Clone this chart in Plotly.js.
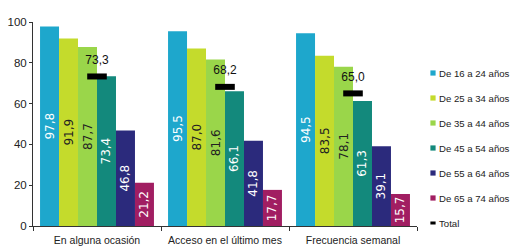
<!DOCTYPE html>
<html><head><meta charset="utf-8">
<script src="https://cdn.plot.ly/plotly-3.0.1.min.js"></script>
<style>html,body{margin:0;padding:0;background:#fff}#c{width:510px;height:248px}</style>
</head><body><div id="c"></div>
<script>
var categories = ["En alguna ocasión", "Acceso en el último mes", "Frecuencia semanal"];
var seriesNames = ["De 16 a 24 años", "De 25 a 34 años", "De 35 a 44 años", "De 45 a 54 años", "De 55 a 64 años", "De 65 a 74 años"];
var age16_24 = [97.8, 95.5, 94.5];
var age25_34 = [91.9, 87.0, 83.5];
var age35_44 = [87.7, 81.6, 78.1];
var age45_54 = [73.4, 66.1, 61.3];
var age55_64 = [46.8, 41.8, 39.1];
var age65_74 = [21.2, 17.7, 15.7];
var total = [73.3, 68.2, 65.0];
var yTicks = [0, 20, 40, 60, 80, 100];

var seriesValues = [age16_24, age25_34, age35_44, age45_54, age55_64, age65_74];
var colors = ["#1ea7cc", "#c4db2c", "#9ad64a", "#13897c", "#2b2a7c", "#a11e62"];
var textColors = ["#ffffff", "#222222", "#222222", "#ffffff", "#ffffff", "#ffffff"];

var traces = [];
seriesValues.forEach(function (vals, i) {
  traces.push({
    type: "bar", x: categories, y: vals, name: seriesNames[i],
    marker: {color: colors[i]}, showlegend: false,
    texttemplate: "%{y:.1f}", textposition: "inside", insidetextanchor: "middle",
    textangle: -90, constraintext: "none",
    textfont: {family: "DejaVu Sans", size: 12, color: textColors[i]},
    hoverinfo: "skip"
  });
});
traces.push({
  type: "scatter", mode: "markers+text", x: categories, y: total, name: "Total",
  showlegend: false, cliponaxis: false,
  marker: {symbol: "line-ew", size: 14, line: {width: 6, color: "#000"}},
  texttemplate: "%{y:.1f}", textposition: "top center",
  textfont: {family: "Liberation Sans", size: 12, color: "#111"}
});

// custom legend (drawn as layout shapes + annotations)
var legendNames = seriesNames.concat(["Total"]);
var legendColors = colors.concat(["#000000"]);
var shapes = [], annotations = [];
var lx = (433 - 33) / 384, ltx = (437 - 33) / 384;
legendNames.forEach(function (n, i) {
  var cy = 73 + i * 25;
  var yp = (226 - cy) / 204;
  var h = 2.6 / 204, w = 2.6 / 384;
  if (i < 6) {
    shapes.push({type: "rect", xref: "paper", yref: "paper",
      x0: lx - w, x1: lx + w, y0: yp - h, y1: yp + h,
      fillcolor: legendColors[i], line: {width: 0}});
  } else {
    shapes.push({type: "rect", xref: "paper", yref: "paper",
      x0: lx - w, x1: lx + w, y0: yp - 1.5 / 204, y1: yp + 1.5 / 204,
      fillcolor: "#000", line: {width: 0}});
  }
  annotations.push({xref: "paper", yref: "paper", x: ltx, y: yp,
    xanchor: "left", yanchor: "middle", showarrow: false, text: n,
    font: {family: "Liberation Sans", size: 9.6, color: "#222"}});
});

var layout = {
  width: 510, height: 248,
  margin: {l: 33, r: 93, t: 22, b: 22},
  paper_bgcolor: "#fff", plot_bgcolor: "#fff",
  barmode: "group", bargap: 0.11, bargroupgap: 0,
  separators: ",.",
  showlegend: false,
  font: {family: "Liberation Sans", size: 11, color: "#222"},
  xaxis: {
    type: "category", showline: true, linecolor: "#333", linewidth: 1,
    ticks: "outside", tickson: "boundaries", ticklen: 4, tickcolor: "#333",
    tickangle: 0, automargin: false, ticklabelstandoff: 4,
    tickfont: {family: "Liberation Sans", size: 10.5, color: "#222"},
    showgrid: false, zeroline: false, fixedrange: true
  },
  yaxis: {
    range: [0, 100], tickvals: yTicks, showline: true, linecolor: "#333",
    ticks: "outside", ticklen: 3, tickcolor: "#333", automargin: false,
    tickfont: {family: "Liberation Sans", size: 11.5, color: "#222"},
    showgrid: false, zeroline: false, fixedrange: true
  },
  shapes: shapes,
  annotations: annotations
};
Plotly.newPlot("c", traces, layout, {displayModeBar: false, staticPlot: true});
</script></body></html>
